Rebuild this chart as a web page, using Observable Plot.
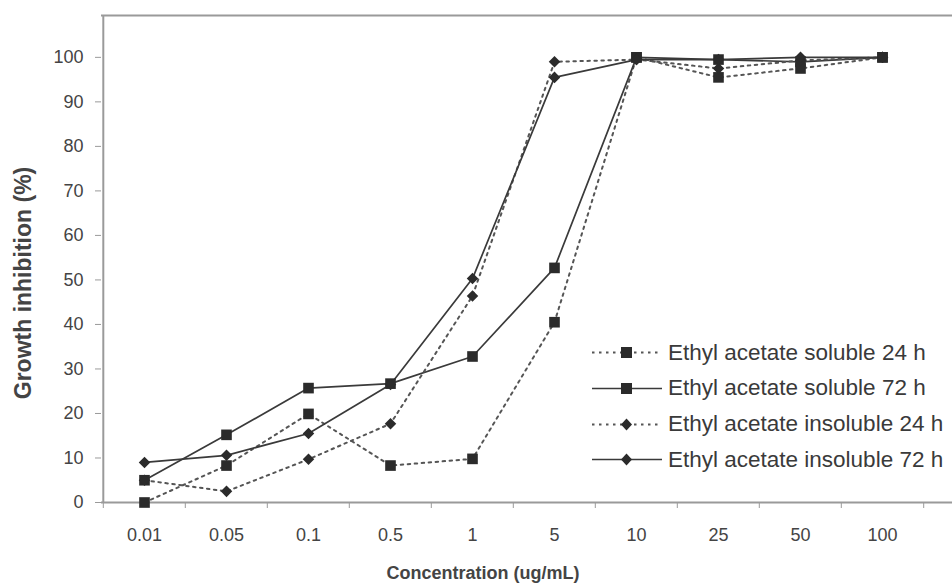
<!DOCTYPE html>
<html>
<head>
<meta charset="utf-8">
<script src="https://cdn.jsdelivr.net/npm/d3@7"></script>
<script src="https://cdn.jsdelivr.net/npm/@observablehq/plot@0.6"></script>
<style>
  body { margin: 0; background: #fff; }
  #wrap { position: relative; width: 952px; height: 585px; font-family: "Liberation Sans", Arial, sans-serif; overflow: hidden; }
  #legend { position: absolute; left: 591px; top: 334.8px; }
  .row { display: flex; align-items: center; height: 35.7px; }
  .row svg { display: block; }
  .row span { margin-left: 5px; font-size: 22.5px; color: #3a3a3a; white-space: nowrap; }
</style>
</head>
<body>
<div id="wrap"><div id="legend"></div></div>
<script>
(function () {
// ---- data ----
const concentrations = ["0.01", "0.05", "0.1", "0.5", "1", "5", "10", "25", "50", "100"];
const yTicks = [0, 10, 20, 30, 40, 50, 60, 70, 80, 90, 100];
const seriesNames = [
  "Ethyl acetate soluble 24 h",
  "Ethyl acetate soluble 72 h",
  "Ethyl acetate insoluble 24 h",
  "Ethyl acetate insoluble 72 h"
];
const soluble24 = [0, 8.3, 19.9, 8.3, 9.8, 40.5, 100, 95.5, 97.5, 100];
const soluble72 = [5, 15.2, 25.7, 26.7, 32.8, 52.7, 100, 99.5, 99, 100];
const insoluble24 = [5, 2.5, 9.7, 17.7, 46.4, 99, 99.5, 97.5, 99.3, 100];
const insoluble72 = [9, 10.6, 15.5, 26.5, 50.3, 95.5, 99.5, 99.5, 100, 100];
const xTitle = "Concentration (ug/mL)";
const yTitle = "Growth inhibition (%)";

// ---- styles ----
const seriesValues = [soluble24, soluble72, insoluble24, insoluble72];
const symbols = ["square", "square", "diamond2", "diamond2"];
const dashed = [true, false, true, false];

const data = seriesNames.flatMap((s, i) =>
  concentrations.map((c, j) => ({series: s, conc: c, value: seriesValues[i][j], idx: i})));

const W = 952, H = 585;
const pLeft = 101, pRight = 925, pTop = 15, pBottom = 502;
const step = (pRight - pLeft) / concentrations.length;
const yMax = 109.4;
const frameColor = "#9a9a9a";
const textColor = "#444";

const marks = [];
marks.push(Plot.ruleY([yMax], {stroke: frameColor, strokeWidth: 2}));
marks.push(Plot.ruleX([concentrations[0]], {dx: -step / 2, stroke: frameColor, strokeWidth: 2}));
marks.push(Plot.axisX({ticks: concentrations, dx: -step / 2, tickSize: 6, text: null, stroke: frameColor, label: null}));
marks.push(Plot.axisX({ticks: concentrations.slice(-1), dx: step / 2, tickSize: 6, text: null, stroke: frameColor, label: null}));
marks.push(Plot.axisX({ticks: concentrations, tickSize: 0, tickPadding: 26, fontSize: 18, fill: textColor, label: null}));
marks.push(Plot.axisY({ticks: yTicks, tickSize: 6, tickPadding: 12, fontSize: 18, fill: textColor, stroke: frameColor, label: null}));
marks.push(Plot.ruleY([0], {stroke: frameColor, strokeWidth: 2}));
seriesNames.forEach((s, i) => {
  const d = data.filter(r => r.idx === i);
  marks.push(Plot.line(d, {
    x: "conc", y: "value",
    stroke: dashed[i] ? "#555" : "#3a3a3a",
    strokeWidth: dashed[i] ? 2 : 1.7,
    strokeDasharray: dashed[i] ? "2.5,4.5" : null
  }));
});
seriesNames.forEach((s, i) => {
  const d = data.filter(r => r.idx === i);
  marks.push(Plot.dot(d, {
    x: "conc", y: "value",
    symbol: symbols[i],
    r: symbols[i] === "square" ? 6 : 5.2,
    fill: "#2b2b2b", stroke: "none"
  }));
});
marks.push(Plot.text([xTitle], {frameAnchor: "bottom", dx: -44, dy: 76, fontSize: 18, fontWeight: "bold", fill: textColor, text: d => d}));
marks.push(Plot.text([yTitle], {frameAnchor: "left", textAnchor: "middle", dx: -78, dy: 24, rotate: -90, fontSize: 23, fontWeight: "bold", fill: textColor, text: d => d}));

const chart = Plot.plot({
  width: W, height: H,
  marginLeft: pLeft, marginRight: 0, marginTop: pTop, marginBottom: H - pBottom,
  style: {fontFamily: '"Liberation Sans", Arial, sans-serif', background: "#fff", overflow: "visible"},
  x: {type: "point", domain: concentrations, padding: 0, range: [pLeft + step / 2, pRight - step / 2], axis: null},
  y: {domain: [0, yMax], axis: null},
  marks
});
const wrap = document.getElementById("wrap");
wrap.insertBefore(chart, wrap.firstChild);

const legend = document.getElementById("legend");
seriesNames.forEach((s, i) => {
  const row = document.createElement("div");
  row.className = "row";
  const isSq = symbols[i] === "square";
  const marker = isSq
    ? `<rect x="30" y="2" width="11" height="11" fill="#2b2b2b"/>`
    : `<path d="M35.5,1.5 L41,7.5 L35.5,13.5 L30,7.5 Z" fill="#2b2b2b"/>`;
  row.innerHTML = `<svg width="72" height="15">
    <line x1="1" y1="7.5" x2="71" y2="7.5" stroke="${dashed[i] ? "#555" : "#3a3a3a"}" stroke-width="${dashed[i] ? 2 : 1.7}" ${dashed[i] ? 'stroke-dasharray="2.5,4.5"' : ""}/>
    ${marker}</svg><span>${s}</span>`;
  legend.appendChild(row);
});
})();
</script>
</body>
</html>
